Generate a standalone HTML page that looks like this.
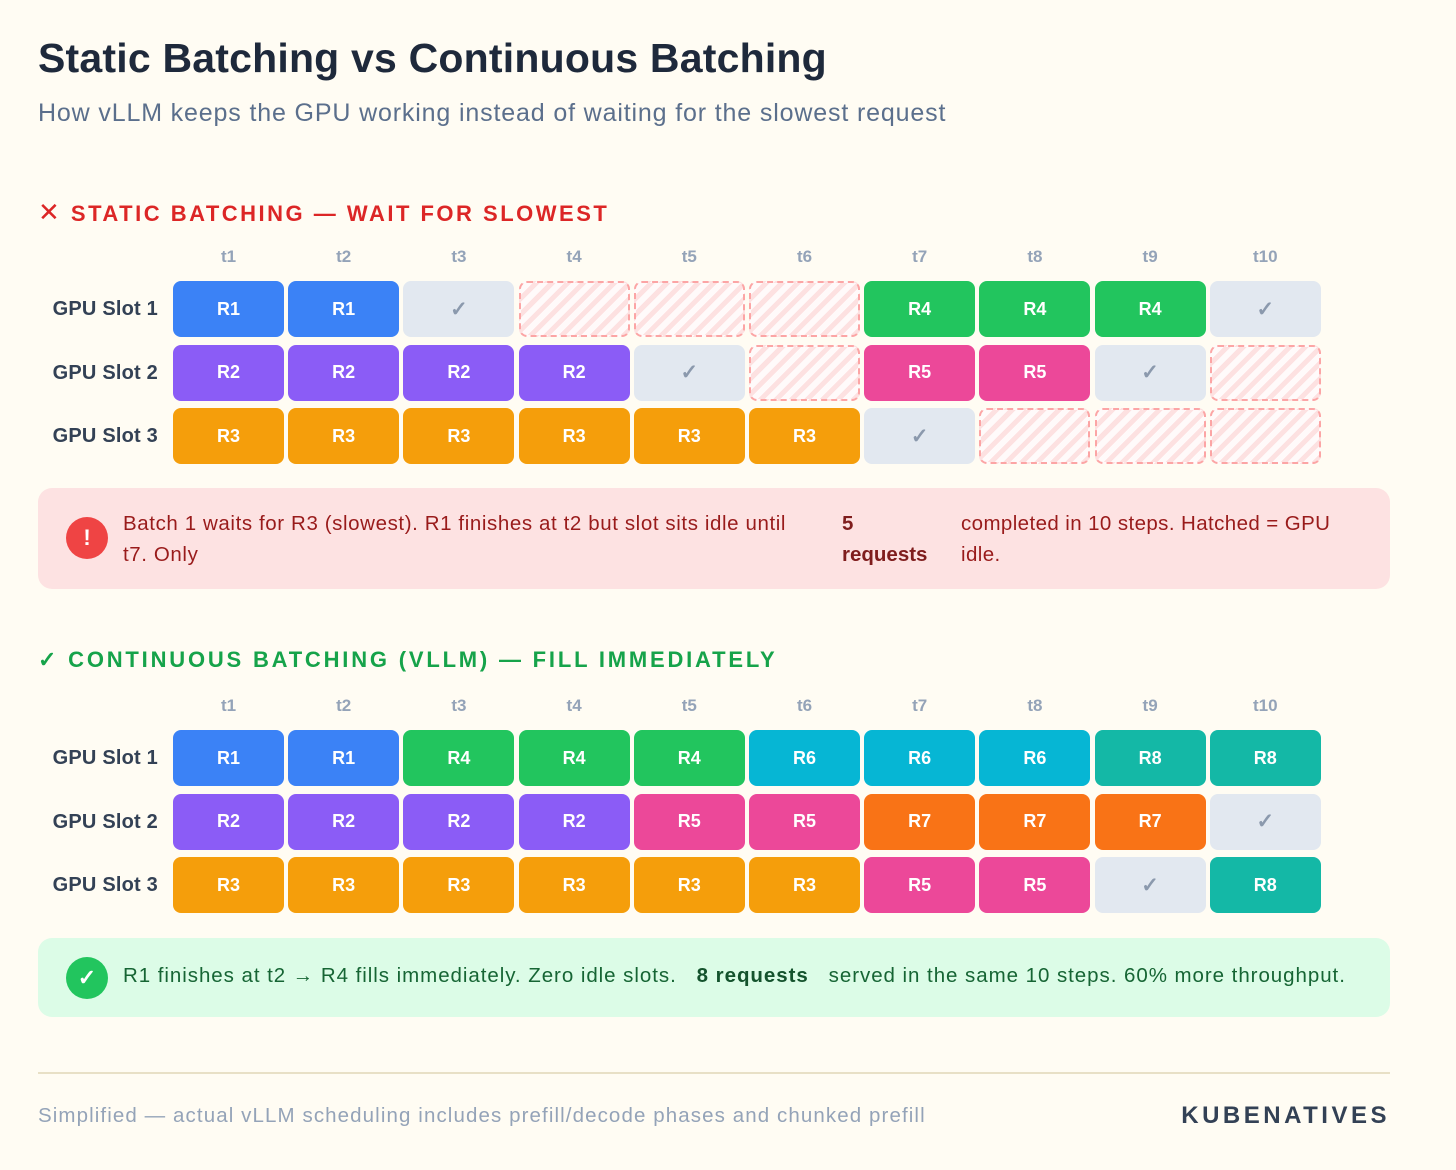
<!DOCTYPE html>
<html><head><meta charset="utf-8">
<style>
body{margin:0;width:1456px;height:1170px;background:#fffcf3;font-family:"Liberation Sans",sans-serif;position:relative;overflow:hidden}
.a{position:absolute;white-space:nowrap}
.cell{position:absolute;width:111px;height:56px;border-radius:8px;box-sizing:border-box;color:#fff;font-weight:bold;font-size:18px;display:flex;align-items:center;justify-content:center}
.done{background:#e2e8f0;color:#8b99ad;font-size:21px}
.idle{border:2.5px dashed #fca5a5;background:repeating-linear-gradient(-45deg,#fde1e1 0 5px,#fffafa 5px 11px)}
.tl{position:absolute;width:111px;text-align:center;color:#94a3b8;font-weight:bold;font-size:17px}
.rl{position:absolute;width:140px;text-align:right;color:#334155;font-weight:bold;font-size:20px;left:18px;letter-spacing:0.2px}
</style></head><body>
<div class="a" style="left:38px;top:35px;font-size:41px;font-weight:bold;color:#1e293b;letter-spacing:0.2px">Static Batching vs Continuous Batching</div>
<div class="a" style="left:38px;top:99px;font-size:25px;color:#5b6f8c;letter-spacing:0.85px">How vLLM keeps the GPU working instead of waiting for the slowest request</div>

<div class="a" style="left:38px;top:197px;font-size:22px;font-weight:bold;color:#dc2626;letter-spacing:2.5px"><span style="font-weight:normal;font-size:26px">✕</span>&nbsp;STATIC BATCHING — WAIT FOR SLOWEST</div>
<div class="a" style="left:38px;top:647px;font-size:22px;font-weight:bold;color:#16a34a;letter-spacing:2.8px">✓ CONTINUOUS BATCHING (VLLM) — FILL IMMEDIATELY</div>

<div id="g1"></div>
<div id="g2"></div>

<div class="a" style="left:38px;top:488px;width:1352px;height:101px;background:#fde2e2;border-radius:14px">
<div class="a" style="left:28px;top:29px;width:42px;height:42px;border-radius:50%;background:#ef4444;color:#fff;font-weight:bold;font-size:22px;text-align:center;line-height:42px">!</div>
<div class="a" style="left:85px;top:20px;width:685px;white-space:normal;font-size:20.5px;line-height:31px;color:#991b1b;letter-spacing:0.6px">Batch 1 waits for R3 (slowest). R1 finishes at t2 but slot sits idle until t7. Only</div>
<div class="a" style="left:804px;top:20px;width:100px;white-space:normal;font-size:20.5px;line-height:31px;color:#7f1d1d;font-weight:bold">5 requests</div>
<div class="a" style="left:923px;top:20px;width:400px;white-space:normal;font-size:20.5px;line-height:31px;color:#991b1b;letter-spacing:0.4px">completed in 10 steps. Hatched = GPU idle.</div>
</div>

<div class="a" style="left:38px;top:938px;width:1352px;height:79px;background:#dcfce7;border-radius:14px">
<div class="a" style="left:28px;top:19px;width:42px;height:42px;border-radius:50%;background:#22c55e;color:#fff;font-weight:bold;font-size:22px;text-align:center;line-height:42px">✓</div>
<div class="a" style="left:85px;top:26px;font-size:20.5px;color:#166534;letter-spacing:0.95px">R1 finishes at t2 → R4 fills immediately. Zero idle slots. &nbsp;&nbsp;<b style="color:#14532d">8 requests</b>&nbsp;&nbsp;&nbsp;served in the same 10 steps. 60% more throughput.</div>
</div>

<div class="a" style="left:38px;top:1072px;width:1352px;height:2px;background:#e8e0c6"></div>
<div class="a" style="left:38px;top:1104px;font-size:20.5px;color:#94a3b8;letter-spacing:1.1px">Simplified — actual vLLM scheduling includes prefill/decode phases and chunked prefill</div>
<div class="a" style="right:66px;top:1102px;font-size:24px;font-weight:bold;color:#334155;letter-spacing:3.5px">KUBENATIVES</div>

<script>
const steps=["t1","t2","t3","t4","t5","t6","t7","t8","t9","t10"];
const slots=["GPU Slot 1","GPU Slot 2","GPU Slot 3"];
const staticSlot1=["R1","R1","done","idle","idle","idle","R4","R4","R4","done"];
const staticSlot2=["R2","R2","R2","R2","done","idle","R5","R5","done","idle"];
const staticSlot3=["R3","R3","R3","R3","R3","R3","done","idle","idle","idle"];
const contSlot1=["R1","R1","R4","R4","R4","R6","R6","R6","R8","R8"];
const contSlot2=["R2","R2","R2","R2","R5","R5","R7","R7","R7","done"];
const contSlot3=["R3","R3","R3","R3","R3","R3","R5","R5","done","R8"];
const colors={R1:"#3b82f6",R2:"#8b5cf6",R3:"#f59e0b",R4:"#22c55e",R5:"#ec4899",R6:"#06b6d4",R7:"#f97316",R8:"#14b8a6"};
function colX(i){return 173+i*115.2;}
function rowY(top,j){return top+j*63.5;}
function grid(id,headerTop,top,rows){
  const g=document.getElementById(id);
  steps.forEach((s,i)=>{
    const d=document.createElement('div');d.className='tl';
    
    
    d.style.left=colX(i)+'px';d.style.top=headerTop+'px';d.textContent=s;g.appendChild(d);
  });
  rows.forEach((row,j)=>{
    const l=document.createElement('div');l.className='rl';
    
    
    l.style.top=(rowY(top,j)+17)+'px';l.textContent=slots[j];g.appendChild(l);
    row.forEach((v,i)=>{
      const c=document.createElement('div');c.className='cell';
      
      
      c.style.left=colX(i)+'px';c.style.top=rowY(top,j)+'px';
      if(v==='done'){c.classList.add('done');c.textContent='✓';}
      else if(v==='idle'){c.classList.add('idle');}
      else{c.style.background=colors[v];c.textContent=v;}
      g.appendChild(c);
    });
  });
}
grid('g1',247,281,[staticSlot1,staticSlot2,staticSlot3]);
grid('g2',696,730,[contSlot1,contSlot2,contSlot3]);
</script>
</body></html>
